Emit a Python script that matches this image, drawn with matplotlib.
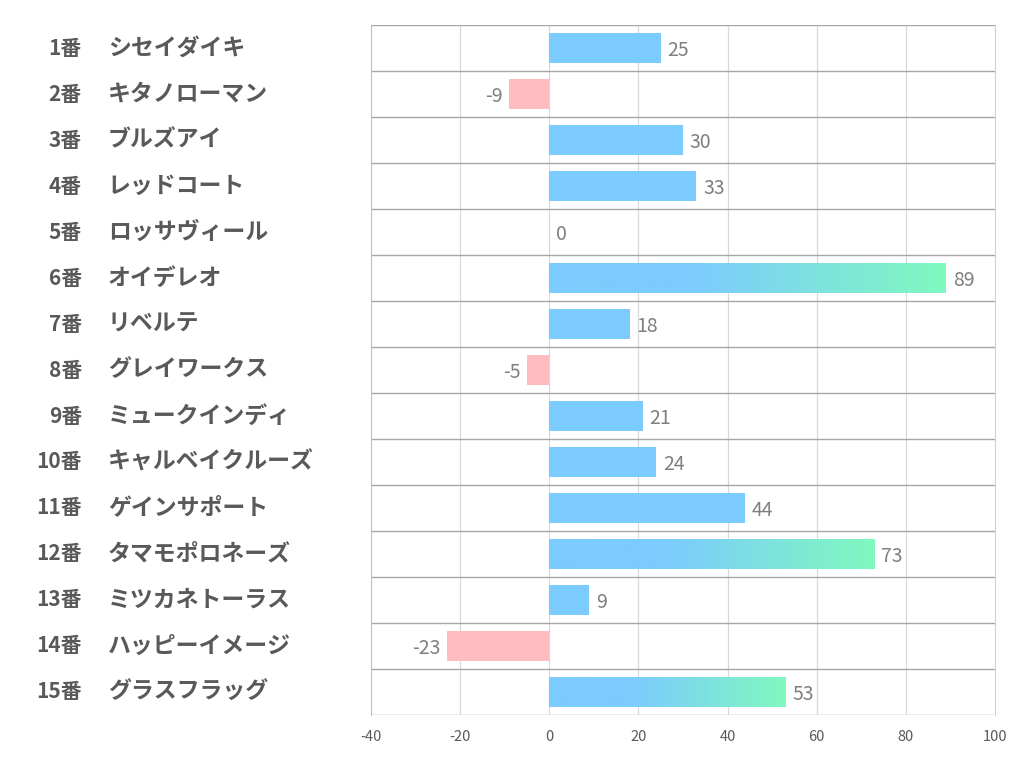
import matplotlib.pyplot as plt
import numpy as np
from matplotlib.colors import LinearSegmentedColormap
from matplotlib import transforms

plt.rcParams['font.family'] = ['Noto Sans CJK JP', 'DejaVu Sans']
plt.rcParams['axes.unicode_minus'] = False

numbers = ["1番", "2番", "3番", "4番", "5番", "6番", "7番", "8番", "9番", "10番",
           "11番", "12番", "13番", "14番", "15番"]
names = ["シセイダイキ", "キタノローマン", "ブルズアイ", "レッドコート", "ロッサヴィール",
         "オイデレオ", "リベルテ", "グレイワークス", "ミュークインディ", "キャルベイクルーズ",
         "ゲインサポート", "タマモポロネーズ", "ミツカネトーラス", "ハッピーイメージ", "グラスフラッグ"]
values = [25, -9, 30, 33, 0, 89, 18, -5, 21, 24, 44, 73, 9, -23, 53]
highlight = [False, False, False, False, False, True, False, False, False, False,
             False, True, False, False, True]

blue = "#7ccbfe"
green = "#80f9be"
pink = "#ffbbbe"

fig = plt.figure(figsize=(10.22, 7.82), dpi=100)
ax = fig.add_axes([0.363, 0.0857, 0.6106, 0.8823])

n = len(values)
ypos = np.arange(n)
bar_h = 0.65

colors = [blue if v >= 0 else pink for v in values]
ax.barh(ypos, values, height=bar_h, color=colors, zorder=2)

# gradient bars
cmap = LinearSegmentedColormap.from_list("bg", [(0, blue), (0.36, blue), (1, green)])
grad = np.linspace(0, 1, 256).reshape(1, -1)
for i, v in enumerate(values):
    if highlight[i]:
        ax.imshow(grad, cmap=cmap, aspect='auto', zorder=3,
                  extent=(0, v, i + bar_h / 2, i - bar_h / 2), interpolation='bicubic')

# value labels
for i, v in enumerate(values):
    if v < 0:
        ax.text(v - 1.5, i + 0.05, str(v), ha='right', va='center', fontsize=14, color='#7f7f7f')
    else:
        ax.text(v + 1.5, i + 0.05, str(v), ha='left', va='center', fontsize=14, color='#7f7f7f')

ax.set_xlim(-40, 100)
ax.set_ylim(n - 0.5, -0.5)
ax.set_xticks(np.arange(-40, 101, 20))
ax.set_yticks([])
ax.tick_params(axis='x', length=0, labelsize=10.5, labelcolor='#595959', pad=11)

for x in range(-20, 100, 20):
    ax.axvline(x, color='#d9d9d9', lw=0.9, zorder=1)
for k in range(n + 1):
    ax.axhline(k - 0.5, color='#a6a6a6', lw=1.0, zorder=1)

for s in ['top', 'bottom']:
    ax.spines[s].set_visible(False)
ax.spines['left'].set_color('#bfbfbf')
ax.spines['right'].set_color('#d0d0d0')

# category labels
tr = transforms.blended_transform_factory(fig.transFigure, ax.transData)
for i in range(n):
    ax.text(82 / 1022, i, numbers[i], transform=tr, ha='right', va='center',
            fontsize=15, fontweight='bold', color='#595959')
    ax.text(108 / 1022, i, names[i], transform=tr, ha='left', va='center',
            fontsize=16.5, fontweight='bold', color='#595959')

fig.savefig("out.png", dpi=100)
